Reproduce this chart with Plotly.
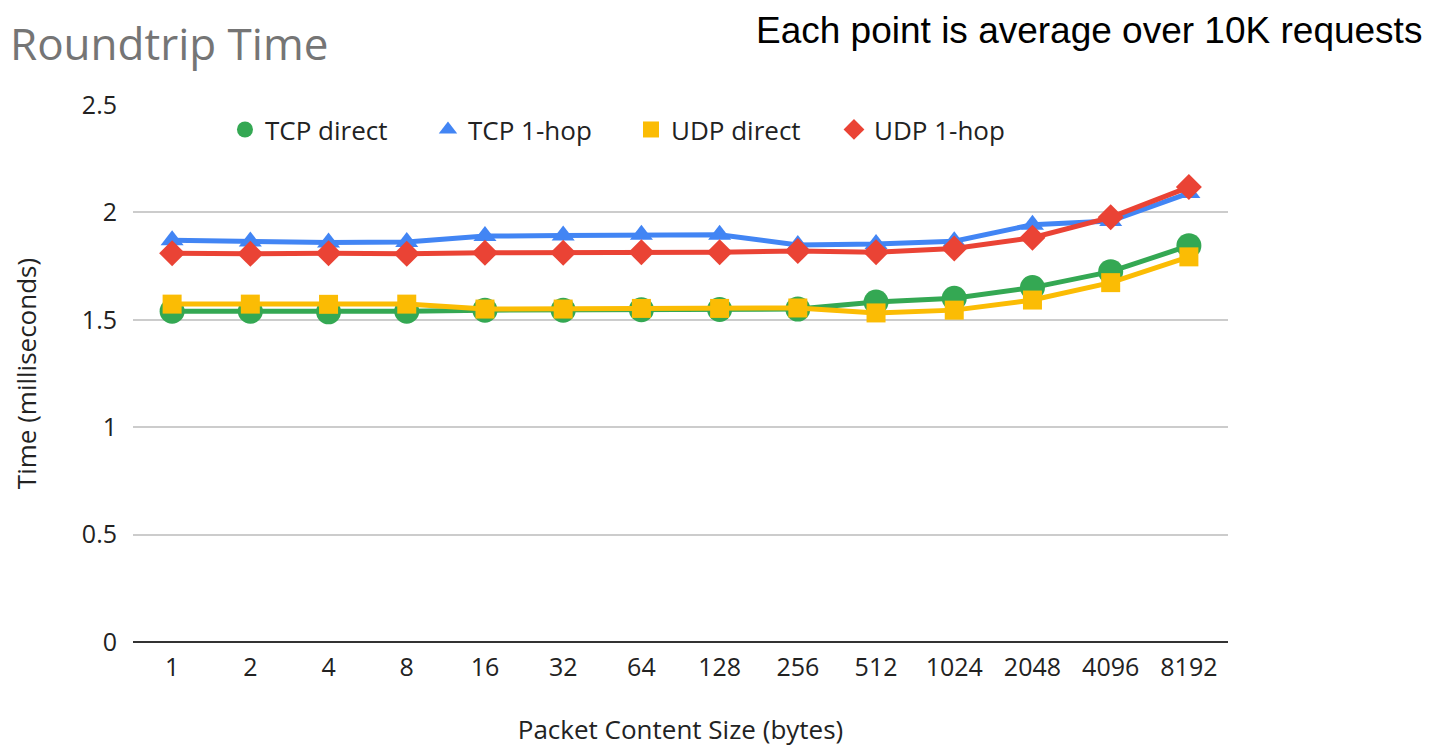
import plotly.graph_objects as go

sizes = ["1", "2", "4", "8", "16", "32", "64", "128", "256", "512", "1024", "2048", "4096", "8192"]
tcp_direct = [1.54, 1.54, 1.537, 1.54, 1.545, 1.545, 1.547, 1.548, 1.55, 1.583, 1.6, 1.65, 1.724, 1.845]
tcp_1hop = [1.87, 1.865, 1.86, 1.862, 1.89, 1.892, 1.896, 1.896, 1.848, 1.853, 1.866, 1.943, 1.96, 2.09]
udp_direct = [1.573, 1.573, 1.572, 1.573, 1.55, 1.55, 1.553, 1.553, 1.555, 1.532, 1.545, 1.592, 1.673, 1.793]
udp_1hop = [1.81, 1.807, 1.81, 1.807, 1.812, 1.812, 1.815, 1.815, 1.82, 1.815, 1.832, 1.882, 1.977, 2.118]

series = [
    ("TCP direct", tcp_direct, "#34a853", "circle", 25),
    ("TCP 1-hop", tcp_1hop, "#4285f4", "triangle-up", 20),
    ("UDP direct", udp_direct, "#fbbc04", "square", 19),
    ("UDP 1-hop", udp_1hop, "#ea4335", "diamond", 20),
]

fig = go.Figure()
for name, vals, color, sym, sz in series:
    fig.add_trace(go.Scatter(
        x=sizes, y=vals, name=name, mode="lines", showlegend=False,
        line=dict(color=color, width=5), hoverinfo="skip",
    ))
    fig.add_trace(go.Scatter(
        x=sizes, y=vals, name=name, mode="markers",
        marker=dict(symbol=sym, size=sz, color=color),
    ))

fig.update_layout(
    width=1428, height=739,
    margin=dict(l=125, r=208, t=97, b=105),
    paper_bgcolor="white", plot_bgcolor="white",
    font=dict(family="Open Sans", size=25, color="#222222"),
    title=dict(text="Roundtrip Time", x=0.0014, xanchor="left", y=0.95, yanchor="middle",
               font=dict(family="Open Sans", size=44, color="#757575")),
    legend=dict(orientation="h", x=0.084, xanchor="left", y=0.998, yanchor="top",
                font=dict(size=26, color="#222222"), entrywidth=158, bgcolor="rgba(0,0,0,0)"),
    xaxis=dict(type="category", range=[-0.5, 13.5], showgrid=False, ticks="", automargin=False,
               title=dict(text="Packet Content Size (bytes)", font=dict(size=26), standoff=56),
               tickfont=dict(size=25), ticklabelstandoff=8),
    yaxis=dict(range=[0, 2.5], dtick=0.5, gridcolor="#cccccc", gridwidth=2, automargin=False,
               zeroline=True, zerolinecolor="#333333", zerolinewidth=2,
               title=dict(text="Time (milliseconds)", font=dict(size=26), standoff=70),
               tickfont=dict(size=25), ticklabelstandoff=15),
    annotations=[dict(text="Each point is average over 10K requests", xref="paper", yref="paper",
                      x=1.179, xanchor="right", y=1.139, yanchor="middle", showarrow=False,
                      font=dict(family="Liberation Sans", size=37, color="#000000"))],
)

fig.write_html("out.html")
